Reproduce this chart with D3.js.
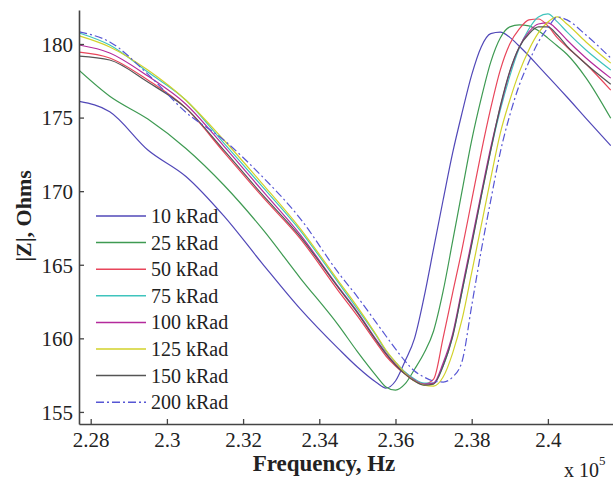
<!DOCTYPE html>
<html>
<head>
<meta charset="utf-8">
<script src="https://cdn.jsdelivr.net/npm/d3@7"></script>
<style>
  html, body { margin: 0; padding: 0; background: #fff; }
  svg { display: block; }
  svg text { font-family: "Liberation Serif", "Times New Roman", serif; fill: #222; }
</style>
</head>
<body>
<svg id="chart" width="613" height="487"></svg>
<script>
// Frequency (x 10^5 Hz)
const freq = [2.277, 2.285, 2.295, 2.305, 2.315, 2.325, 2.335, 2.345, 2.350, 2.355, 2.3575, 2.360,
  2.3625, 2.365, 2.3675, 2.370, 2.3725, 2.375, 2.3775, 2.380, 2.3825, 2.385, 2.3875, 2.390,
  2.3925, 2.395, 2.3975, 2.400, 2.4025, 2.405, 2.410, 2.4165];

// |Z| (Ohms) per dose
const z10 = [176.1, 175.4, 172.8, 171.0, 168.3, 165.1, 162.0, 159.3, 158.05, 157.0, 156.62, 157.1,
  158.45, 160.0, 162.8, 166.1, 169.4, 172.6, 175.35, 177.9, 179.8, 180.7, 180.8, 180.45,
  179.85, 179.2, 178.5, 177.8, 177.1, 176.4, 174.95, 173.1];
const z25 = [178.2, 176.45, 174.9, 172.9, 170.4, 167.45, 164.1, 160.9, 159.1, 157.44, 156.7, 156.48,
  156.9, 157.9, 159.0, 160.5, 163.2, 166.6, 170.05, 173.45, 176.3, 178.77, 180.41, 181.16,
  181.3, 181.23, 180.9, 180.4, 179.86, 179.3, 177.7, 174.95];
const z50 = [179.45, 179.05, 177.55, 175.64, 172.64, 169.64, 166.78, 163.23, 161.53, 159.69, 158.8, 158.12,
  157.57, 157.1, 156.89, 157.23, 160.03, 163.09, 166.09, 169.37, 172.64, 175.64, 178.23, 180.0,
  181.02, 181.64, 181.7, 181.23, 180.41, 179.8, 178.64, 176.86];
const z75 = [180.75, 179.93, 178.09, 176.18, 173.25, 170.32, 167.32, 163.78, 162.0, 160.16, 159.14, 158.39,
  157.71, 157.23, 156.96, 156.96, 158.12, 160.16, 163.23, 166.43, 169.64, 172.77, 175.5, 177.82,
  179.73, 181.02, 181.84, 182.04, 181.5, 180.82, 179.59, 178.23];
const z100 = [179.93, 179.39, 177.82, 175.91, 173.05, 170.05, 167.05, 163.5, 161.8, 159.89, 159.0, 158.25,
  157.64, 157.16, 156.89, 156.96, 158.32, 160.3, 163.44, 166.64, 169.85, 172.98, 175.7, 178.09,
  179.8, 180.82, 181.36, 181.43, 180.95, 180.27, 179.05, 177.68];
const z125 = [180.55, 179.8, 178.23, 176.18, 173.46, 170.52, 167.46, 163.91, 162.14, 160.23, 159.21, 158.39,
  157.64, 157.1, 156.82, 156.76, 157.37, 159.0, 161.32, 164.46, 167.66, 170.87, 173.93, 176.18,
  178.09, 179.59, 180.75, 181.5, 181.84, 181.36, 180.14, 178.7];
const z150 = [179.18, 178.91, 177.41, 175.64, 172.77, 169.78, 166.91, 163.44, 161.73, 159.82, 158.94, 158.19,
  157.57, 157.1, 156.82, 156.89, 158.12, 160.1, 163.23, 166.37, 169.64, 172.77, 175.77, 178.16,
  179.8, 180.68, 181.16, 181.16, 180.61, 179.86, 178.64, 177.27];
const z200 = [180.82, 180.14, 177.95, 175.36, 173.46, 171.0, 168.14, 164.46, 162.82, 161.05, 160.16, 159.28,
  158.46, 157.78, 157.37, 157.1, 157.03, 157.37, 158.46, 162.21, 165.96, 169.37, 172.64, 175.16,
  177.21, 178.77, 180.14, 181.09, 181.84, 181.64, 180.61, 179.05];

const seriesNames = ["10 kRad", "25 kRad", "50 kRad", "75 kRad", "100 kRad", "125 kRad", "150 kRad", "200 kRad"];
const seriesValues = [z10, z25, z50, z75, z100, z125, z150, z200];
const seriesColors = ["#5148b8", "#3e9a52", "#e8455a", "#3fc4bd", "#b42a9c", "#d2d22a", "#555555", "#5656d4"];
const seriesDash = [null, null, null, null, null, null, null, "8,3,2,3"];

const xTicks = [2.28, 2.30, 2.32, 2.34, 2.36, 2.38, 2.40];
const xTickLabels = ["2.28", "2.3", "2.32", "2.34", "2.36", "2.38", "2.4"];
const yTicks = [155, 160, 165, 170, 175, 180];

const svg = d3.select("#chart");
const L = 79, R = 613, T = 10, B = 424;

const x = d3.scaleLinear().domain([2.27693, 2.41709]).range([L, R]);
const y = d3.scaleLinear().domain([154.18, 182.31]).range([B, T]);

svg.append("defs").append("clipPath").attr("id", "plotclip")
  .append("rect").attr("x", L).attr("y", T - 2).attr("width", R - L).attr("height", B - T + 2);

const plot = svg.append("g").attr("clip-path", "url(#plotclip)");
const line = d3.line().x((d, i) => x(freq[i])).y(d => y(d)).curve(d3.curveMonotoneX);

seriesValues.forEach((vals, k) => {
  plot.append("path")
    .attr("d", line(vals))
    .attr("fill", "none")
    .attr("stroke", seriesColors[k])
    .attr("stroke-width", 1.2)
    .attr("stroke-dasharray", seriesDash[k]);
});

// Axes (MATLAB style, inward ticks)
const axisColor = "#444";
const xAxis = d3.axisBottom(x).tickValues(xTicks).tickSizeInner(-5).tickSizeOuter(0)
  .tickFormat((d, i) => xTickLabels[i]).tickPadding(8);
const gx = svg.append("g").attr("transform", `translate(0,${B})`).call(xAxis)
  .attr("font-family", null).attr("font-size", null);
gx.select(".domain").attr("stroke", axisColor).attr("stroke-width", 1.6);
gx.selectAll(".tick line").attr("stroke", axisColor).attr("stroke-width", 1.3);
gx.selectAll(".tick text").style("font-size", "21px").attr("fill", "#222").attr("dy", "0.71em");

const yAxis = d3.axisLeft(y).tickValues(yTicks).tickSizeInner(-5).tickSizeOuter(0)
  .tickFormat(d3.format("d")).tickPadding(6);
const gy = svg.append("g").attr("transform", `translate(${L},0)`).call(yAxis)
  .attr("font-family", null).attr("font-size", null);
gy.select(".domain").attr("stroke", axisColor).attr("stroke-width", 1.6);
gy.selectAll(".tick line").attr("stroke", axisColor).attr("stroke-width", 1.3);
gy.selectAll(".tick text").style("font-size", "21px").attr("fill", "#222").attr("dy", "0.35em");

// Axis titles
svg.append("text").attr("x", 324).attr("y", 471).attr("text-anchor", "middle")
  .style("font-size", "23px").attr("font-weight", "bold").text("Frequency, Hz");
svg.append("text").attr("transform", "translate(31,216) rotate(-90)").attr("text-anchor", "middle")
  .style("font-size", "22px").attr("font-weight", "bold").text("|Z|, Ohms");

const mult = svg.append("text").attr("x", 564).attr("y", 477).style("font-size", "20px");
mult.append("tspan").text("x 10");
mult.append("tspan").style("font-size", "13px").attr("dy", -12).text("5");

// Legend
const legend = svg.append("g");
seriesNames.forEach((name, k) => {
  const yy = 216 + k * 26.6;
  legend.append("line").attr("x1", 96).attr("x2", 146).attr("y1", yy).attr("y2", yy)
    .attr("stroke", seriesColors[k]).attr("stroke-width", 1.5)
    .attr("stroke-dasharray", seriesDash[k]);
  legend.append("text").attr("x", 151).attr("y", yy).attr("dy", "0.35em")
    .style("font-size", "20px").text(name);
});
</script>
</body>
</html>
